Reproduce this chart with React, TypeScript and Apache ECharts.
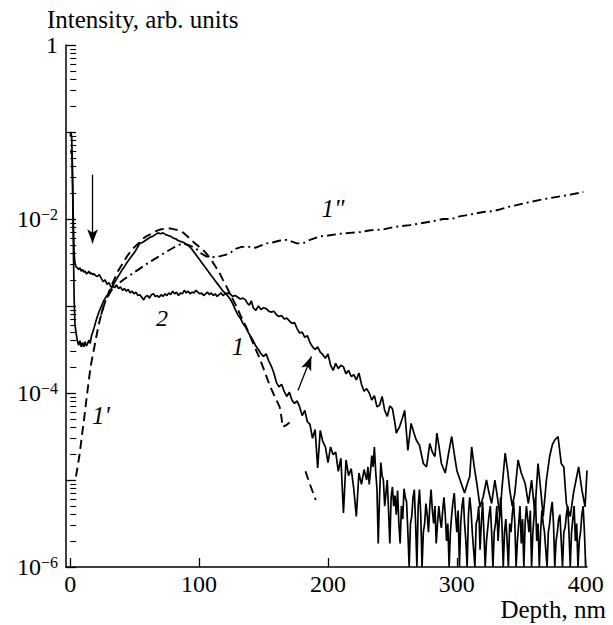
import React, { useEffect, useRef } from "react";
import * as echarts from "echarts";

// Depth (nm) tick values on the x axis
const xTickValues = [0, 100, 200, 300, 400];
// Decade exponents that carry a label on the intensity axis
const yLabelExponents = [0, -2, -4, -6];

// All curves: [depth in nm, log10(intensity)]
const curve1: [number, number][] = [
  [0, -1.05], [0.6, -1.0], [1.2, -1.08], [1.8, -1.6], [2.4, -2.3], [3.0, -2.9], [3.6, -3.2], [4.4, -3.3],
  [5.5, -3.4], [6.5, -3.45], [7.5, -3.4], [8.5, -3.47], [9.5, -3.42], [10.5, -3.47], [11.5, -3.41], [12.5, -3.46],
  [13.5, -3.43], [14.5, -3.39], [15.5, -3.43], [16.5, -3.34], [17.5, -3.3], [18.7, -3.24], [20, -3.17], [21.5, -3.1],
  [23, -3.04], [24.5, -2.99], [26, -2.94], [27.5, -2.9], [29, -2.87], [30.5, -2.83], [32, -2.8], [34, -2.74],
  [36, -2.69], [38, -2.64], [40, -2.59], [42, -2.55], [44, -2.5], [46, -2.46], [48, -2.42], [50, -2.38],
  [52, -2.33], [54, -2.28], [56, -2.27], [58, -2.25], [60, -2.23], [62, -2.21], [64, -2.2], [66, -2.18],
  [68, -2.16], [70, -2.17], [72, -2.16], [74, -2.18], [76, -2.19], [78, -2.2], [80, -2.22], [82, -2.23],
  [84, -2.25], [86, -2.26], [88, -2.27], [90, -2.29], [92, -2.31], [94, -2.34], [96, -2.38], [98, -2.42],
  [100, -2.46], [102, -2.5], [104, -2.54], [106, -2.58], [108, -2.62], [110, -2.66], [112, -2.7], [114, -2.74],
  [116, -2.78], [118, -2.82], [120, -2.85], [122, -2.88], [124, -2.92], [126, -2.97], [128, -3.04], [130, -3.1],
  [132, -3.14], [134, -3.2], [136, -3.24], [138, -3.3], [140, -3.35], [142, -3.4], [144, -3.46], [146, -3.5],
  [148, -3.55], [150, -3.58], [152, -3.55], [154, -3.63], [156, -3.69], [158, -3.77], [160, -3.88], [162, -3.93],
  [164, -3.9], [166, -3.98], [168, -4.04], [170, -3.99], [172, -4.08], [174, -4.12], [176, -4.09], [178, -4.16],
  [180, -4.26], [182, -4.2], [184, -4.33], [186, -4.36], [188, -4.52], [190, -4.42], [192, -4.86], [194, -4.43],
  [196, -4.56], [198, -4.62], [200, -4.8], [202, -4.62], [204, -4.71], [206, -4.68], [208, -4.9], [210, -4.75],
  [212, -5.38], [214, -4.77], [216, -4.95], [218, -4.87], [220, -5.1], [222, -5.42], [224, -4.92], [226, -5.05],
  [228, -4.88], [230, -5.0], [231, -4.85], [232, -5.05], [233, -4.9], [234, -4.72], [235, -4.85], [236, -4.62],
  [237, -4.9], [238, -5.1], [239, -5.73], [240, -5.2], [241, -4.8], [242, -4.95], [243, -5.0], [244, -5.3],
  [245, -5.15], [246, -5.0], [247, -5.35], [248, -5.73], [249, -5.2], [250, -5.08], [251, -5.3], [252, -5.18],
  [253, -5.4], [254, -5.12], [255, -5.5], [256, -5.73], [257, -5.3], [258, -5.45], [259, -5.1], [260, -5.2],
  [261, -5.25], [262, -5.6], [263, -6], [264, -5.5], [265, -5.42], [266, -5.2], [267, -5.11], [268, -5.5],
  [269, -6], [270, -5.3], [271, -5.11], [272, -5.4], [273, -6], [274, -5.6], [275, -5.5], [276, -5.27],
  [277, -5.4], [278, -5.6], [279, -5.3], [280, -5.11], [281, -5.35], [282, -5.5], [283, -5.3], [284, -5.73],
  [285, -5.5], [286, -5.3], [287, -5.45], [288, -5.55], [289, -5.35], [290, -5.2], [291, -5.4], [292, -5.7],
  [293, -5.5], [294, -6], [295, -5.6], [296, -5.4], [297, -5.25], [298, -5.15], [299, -5.4], [300, -5.6],
  [301, -5.35], [302, -6], [303, -5.5], [304, -5.3], [305, -5.2], [306, -5.5], [307, -5.7], [308, -6],
  [309, -5.4], [310, -5.2], [311, -5.35], [312, -5.6], [313, -5.8], [314, -6], [315, -5.5], [316, -5.45],
  [317, -5.3], [318, -5.8], [319, -5.5], [320, -5.25], [321, -5.6], [322, -6], [323, -5.7], [324, -5.55],
  [325, -5.4], [326, -5.3], [327, -5.6], [328, -6], [329, -5.6], [330, -5.5], [331, -5.3], [332, -5.7],
  [333, -5.45], [334, -5.2], [335, -5.5], [336, -6], [337, -5.6], [338, -5.45], [339, -5.7], [340, -6],
  [341, -5.5], [342, -5.6], [343, -5.4], [344, -5.25], [345, -5.5], [346, -6], [347, -5.7], [348, -5.5],
  [349, -5.3], [350, -5.73], [351, -5.45], [352, -6], [353, -5.5], [354, -5.3], [355, -5.45], [356, -5.6],
  [357, -5.35], [358, -6], [359, -5.6], [360, -5.4], [361, -5.2], [362, -5.7], [363, -5.5], [364, -6],
  [365, -5.6], [366, -5.35], [367, -5.5], [368, -5.6], [369, -5.8], [370, -6], [371, -5.6], [372, -5.5],
  [373, -5.35], [374, -5.25], [375, -5.5], [376, -6], [377, -5.7], [378, -5.6], [379, -5.45], [380, -5.4],
  [381, -5.7], [382, -6], [383, -5.6], [384, -5.55], [385, -5.4], [386, -5.3], [387, -5.6], [388, -6],
  [389, -5.6], [390, -5.45], [391, -5.3], [392, -5.7], [393, -5.5], [394, -6], [395, -5.7], [396, -5.6],
  [397, -5.4], [398, -5.3], [399, -5.6], [400, -6],
];

const curve2: [number, number][] = [
  [0.5, -1.25], [1.0, -1.2], [1.5, -1.3], [2.0, -1.7], [2.5, -2.1], [3.0, -2.4], [3.6, -2.5], [4.4, -2.55],
  [5.5, -2.56], [6.5, -2.58], [7.5, -2.56], [8.5, -2.6], [9.5, -2.58], [10.5, -2.61], [11.5, -2.6], [12.5, -2.63],
  [13.5, -2.62], [14.5, -2.6], [15.5, -2.63], [16.5, -2.62], [17.5, -2.64], [18.5, -2.63], [19.5, -2.65], [21, -2.66],
  [22.5, -2.64], [24, -2.68], [25.5, -2.72], [27, -2.7], [28.5, -2.75], [30, -2.73], [31.5, -2.78], [33, -2.77],
  [34.5, -2.79], [36, -2.76], [37.5, -2.8], [39, -2.78], [40.5, -2.82], [42, -2.8], [43.5, -2.83], [45, -2.81],
  [46.5, -2.85], [48, -2.83], [49.5, -2.86], [51, -2.84], [52.5, -2.88], [54, -2.87], [55.5, -2.9], [57, -2.93],
  [58.5, -2.89], [60, -2.88], [61.5, -2.91], [63, -2.87], [64.5, -2.86], [66, -2.89], [67.5, -2.88], [69, -2.9],
  [70.5, -2.87], [72, -2.89], [73.5, -2.86], [75, -2.88], [76.5, -2.85], [78, -2.87], [79.5, -2.83], [81, -2.86],
  [82.5, -2.84], [84, -2.88], [85.5, -2.85], [87, -2.86], [88.5, -2.82], [90, -2.85], [91.5, -2.83], [93, -2.86],
  [94.5, -2.84], [96, -2.85], [97.5, -2.82], [99, -2.84], [100.5, -2.86], [102, -2.85], [103.5, -2.88], [105, -2.86],
  [106.5, -2.84], [108, -2.87], [109.5, -2.85], [111, -2.88], [112.5, -2.86], [114, -2.89], [115.5, -2.87], [117, -2.85],
  [118.5, -2.88], [120, -2.86], [122, -2.85], [124, -2.86], [126, -2.89], [128, -2.88], [130, -2.9], [132, -2.92],
  [134, -2.91], [136, -2.93], [137.5, -2.97], [139, -2.99], [140.5, -2.94], [142, -3.02], [144, -3.05], [146, -3.0],
  [148, -3.04], [150, -3.02], [152, -3.03], [154, -3.06], [156, -3.07], [158, -3.06], [160, -3.1], [162, -3.12],
  [164, -3.11], [166, -3.15], [168, -3.14], [170, -3.17], [172, -3.2], [174, -3.19], [176, -3.26], [178, -3.31],
  [180, -3.3], [182, -3.36], [184, -3.34], [186, -3.42], [188, -3.47], [190, -3.5], [192, -3.47], [194, -3.53],
  [196, -3.56], [198, -3.6], [200, -3.55], [202, -3.68], [204, -3.74], [206, -3.66], [208, -3.72], [210, -3.68],
  [212, -3.7], [214, -3.78], [216, -3.74], [218, -3.81], [220, -3.79], [222, -3.85], [224, -3.77], [226, -3.9],
  [228, -3.98], [230, -3.95], [232, -4.0], [234, -4.08], [236, -4.03], [238, -4.16], [240, -4.14], [242, -4.04],
  [244, -4.2], [246, -4.27], [248, -4.15], [250, -4.18], [252, -4.35], [253, -4.46], [255.5, -4.39], [257.5, -4.3],
  [259.5, -4.2], [262, -4.66], [264.5, -4.35], [266.5, -4.45], [268.5, -4.54], [271, -4.6], [274, -4.81], [276.5, -4.85],
  [279, -4.58], [281, -4.68], [283, -4.73], [284.5, -4.46], [286, -4.6], [288, -4.81], [291, -4.92], [293.5, -4.7],
  [296, -4.5], [298, -4.7], [300, -4.89], [302.5, -5.0], [306, -5.15], [308, -5.05], [310, -4.96], [311.5, -4.62],
  [313.5, -4.85], [315.5, -5.04], [318, -5.31], [320.5, -5.19], [323, -5.0], [325, -5.15], [327, -5.27], [329.5, -5.0],
  [331.5, -5.2], [333.5, -5.42], [335, -5.1], [337.5, -4.69], [339.5, -4.9], [341, -5.11], [343, -5.3], [345, -5.15],
  [347.5, -4.77], [350, -4.92], [353, -5.04], [355.5, -5.27], [358, -5.0], [360.5, -5.38], [363, -4.81], [365, -5.1],
  [367, -5.42], [369.5, -5.0], [372, -4.73], [374, -4.6], [376, -4.54], [378.5, -4.5], [381, -4.81], [383, -4.85],
  [385, -5.27], [388, -5.42], [390.5, -5.15], [392.5, -5.0], [394.5, -4.85], [397, -5.11], [399.5, -5.31], [401, -4.89],
];

// Dashed fit 1' (main branch and the short lower piece)
const curve1Prime: [number, number][] = [
  [4.4, -4.96], [5.7, -4.85], [7, -4.73], [8.3, -4.58], [9.6, -4.43], [11, -4.27], [12.2, -4.12], [13.5, -3.96],
  [14.8, -3.81], [16, -3.68], [17.3, -3.58], [18.6, -3.48], [20, -3.37], [22, -3.22], [24, -3.1], [26, -3.0],
  [28, -2.92], [31, -2.8], [34, -2.7], [37, -2.6], [40.7, -2.51], [44, -2.43], [47, -2.37], [50, -2.32],
  [53.6, -2.27], [57, -2.22], [60, -2.19], [63, -2.17], [66.6, -2.14], [70, -2.12], [74.4, -2.11], [78, -2.11],
  [81, -2.12], [84.7, -2.13], [88, -2.16], [92.5, -2.22], [96, -2.27], [100, -2.32], [104, -2.37], [108, -2.44],
  [112, -2.53], [115.8, -2.62], [118.5, -2.7], [121, -2.77], [125, -2.89], [128.8, -3.0], [132.5, -3.12], [136.5, -3.24],
  [140, -3.36], [144, -3.5], [147, -3.6], [149.5, -3.7], [152, -3.8], [154.7, -3.91], [158, -4.02], [162.5, -4.16],
  [163.8, -4.27], [164.8, -4.39], [167.5, -4.37], [170.2, -4.34],
];
const curve1PrimeTail: [number, number][] = [
  [182.5, -4.9], [186, -5.05], [190.5, -5.23],
];

// Dash-dot curve 1''
const curve1DoublePrime: [number, number][] = [
  [24, -3.1], [26, -2.99], [28, -2.92], [32, -2.82], [36, -2.76], [41, -2.7], [47, -2.64], [54, -2.57],
  [60, -2.51], [66.6, -2.45], [73, -2.39], [80, -2.33], [87, -2.28], [92, -2.3], [97.7, -2.34], [101, -2.39],
  [105.5, -2.43], [110, -2.44], [115.8, -2.43], [121, -2.41], [125, -2.38], [128.8, -2.34], [133, -2.32], [139, -2.32],
  [144, -2.33], [152, -2.28], [157, -2.27], [162, -2.25], [167.7, -2.24], [172, -2.26], [176, -2.28], [180.6, -2.28],
  [186, -2.24], [193.5, -2.2], [200, -2.19], [209, -2.17], [217, -2.16], [225, -2.15], [233, -2.13], [242.8, -2.12],
  [252, -2.09], [263.5, -2.07], [272, -2.05], [280, -2.03], [289.4, -2.0], [296, -2.0], [302, -1.97], [310, -1.95],
  [320.5, -1.92], [328, -1.91], [333.5, -1.89], [340, -1.86], [346.4, -1.84], [355, -1.81], [364.6, -1.78], [372, -1.76],
  [380, -1.74], [388, -1.72], [398.2, -1.69],
];

// Arrows: [start, end] as [depth nm, log10(intensity)]
const arrowDown: [number, number][] = [[17.3, -1.49], [17.3, -2.28]];
const arrowUp: [number, number][] = [[176.7, -3.97], [187.1, -3.58]];

const SERIF = "Liberation Serif";

const toPoints = (pts: [number, number][]) => pts.map(([x, e]) => [x, Math.pow(10, e)]);

export default function App() {
  const ref = useRef<HTMLDivElement>(null);

  useEffect(() => {
    if (!ref.current) return;
    const chart = echarts.init(ref.current, null, { renderer: "svg", width: 613, height: 625 });

    const minorExps: number[] = [];
    for (let n = -6; n < 0; n++) {
      for (let k = 2; k <= 9; k++) minorExps.push(n + Math.log10(k));
    }

    const arrowLine = (a: [number, number][]) => [
      { coord: [a[0][0], Math.pow(10, a[0][1])] },
      { coord: [a[1][0], Math.pow(10, a[1][1])] },
    ];

    const solid = { color: "#000", width: 1.7, type: "solid" as const };
    const txt = (text: string, x: number, y: number, size: number, italic: boolean, align: string) => ({
      type: "text",
      x,
      y,
      style: {
        text,
        fontFamily: SERIF,
        fontStyle: italic ? "italic" : "normal",
        fontSize: size,
        fill: "#000",
        align,
        verticalAlign: "middle",
      },
    });

    const option: any = {
      animation: false,
      backgroundColor: "#fff",
      textStyle: { fontFamily: SERIF },
      grid: { left: 66, right: 26, top: 45, bottom: 58, outerBoundsMode: "none", containLabel: false },
      xAxis: {
        type: "value",
        min: -3.3,
        max: 401,
        axisLine: { show: true, onZero: false, lineStyle: { color: "#000", width: 1.5 } },
        axisTick: { show: true, inside: true, length: 9, customValues: xTickValues, lineStyle: { color: "#000", width: 1.3 } },
        axisLabel: {
          show: true,
          customValues: xTickValues,
          margin: 7,
          color: "#000",
          fontFamily: SERIF,
          fontSize: 24,
          lineHeight: 20,
        },
        splitLine: { show: false },
      },
      yAxis: [
        {
          type: "log",
          logBase: 10,
          min: 1e-6,
          max: 1,
          position: "left",
          axisLine: { show: true, onZero: false, lineStyle: { color: "#000", width: 1.5 } },
          axisTick: { show: true, inside: true, length: 10, lineStyle: { color: "#000", width: 1.3 } },
          minorTick: { show: false },
          splitLine: { show: false },
          axisLabel: {
            show: true,
            margin: 8,
            color: "#000",
            fontFamily: SERIF,
            formatter: (v: number) => {
              const e = Math.round(Math.log10(v));
              if (!yLabelExponents.includes(e)) return "";
              if (e === 0) return "{base|1}";
              return `{base|10}{sup|\u2212${-e}}`;
            },
            rich: {
              base: { fontFamily: SERIF, fontSize: 24, lineHeight: 26, color: "#000" },
              sup: { fontFamily: SERIF, fontSize: 16, lineHeight: 16, verticalAlign: "top", color: "#000" },
            },
          },
        },
        {
          type: "value",
          min: -6,
          max: 0,
          position: "left",
          offset: 0,
          axisLine: { show: false },
          axisTick: { show: true, inside: true, length: 6, customValues: minorExps, lineStyle: { color: "#000", width: 1.1 } },
          axisLabel: { show: false },
          splitLine: { show: false },
        },
      ],
      graphic: [
        txt("Intensity, arb. units", 47, 19, 25, false, "left"),
        txt("Depth, nm", 606, 609, 25, false, "right"),
        txt('1"', 333, 208, 25, true, "center"),
        txt("2", 162, 318, 24, true, "center"),
        txt("1", 238, 346, 25, true, "center"),
        txt("1'", 101, 415, 25, true, "center"),
      ],
      series: [
        {
          name: "1",
          type: "line",
          data: toPoints(curve1),
          showSymbol: false,
          symbol: "none",
          lineStyle: solid,
          z: 3,
        },
        {
          name: "2",
          type: "line",
          data: toPoints(curve2),
          showSymbol: false,
          symbol: "none",
          lineStyle: solid,
          z: 3,
          markLine: {
            silent: true,
            symbol: ["none", "arrow"],
            symbolSize: [8, 14],
            label: { show: false },
            lineStyle: { color: "#000", width: 1.3, type: "solid" },
            data: [arrowLine(arrowDown), arrowLine(arrowUp)],
          },
        },
        {
          name: "1'",
          type: "line",
          data: toPoints(curve1Prime),
          showSymbol: false,
          symbol: "none",
          lineStyle: { color: "#000", width: 1.9, type: [9, 5] },
          z: 2,
        },
        {
          name: "1' tail",
          type: "line",
          data: toPoints(curve1PrimeTail),
          showSymbol: false,
          symbol: "none",
          lineStyle: { color: "#000", width: 1.9, type: [9, 5] },
          z: 2,
        },
        {
          name: '1"',
          type: "line",
          data: toPoints(curve1DoublePrime),
          showSymbol: false,
          symbol: "none",
          lineStyle: { color: "#000", width: 1.9, type: [9, 4, 2, 4] },
          z: 2,
        },
      ],
    };

    chart.setOption(option);
    return () => chart.dispose();
  }, []);

  return (
    <div
      ref={ref}
      style={{ position: "fixed", left: 0, top: 0, width: 613, height: 625, background: "#fff" }}
    />
  );
}
